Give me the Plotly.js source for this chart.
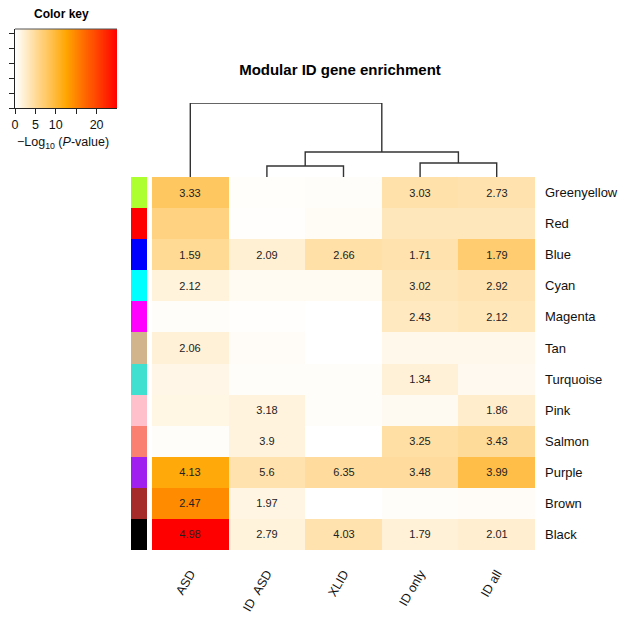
<!DOCTYPE html>
<html>
<head>
<meta charset="utf-8">
<script src="https://cdn.plot.ly/plotly-3.0.1.min.js"></script>
<style>html,body{margin:0;padding:0;background:#fff}#chart{width:620px;height:617px}</style>
</head>
<body>
<div id="chart"></div>
<script>
// ---- data ----
var columns = ['ASD', 'ID\u00a0\u00a0ASD', 'XLID', 'ID only', 'ID all'];
var modules = ['Greenyellow', 'Red', 'Blue', 'Cyan', 'Magenta', 'Tan', 'Turquoise', 'Pink', 'Salmon', 'Purple', 'Brown', 'Black'];
var moduleColors = ['#ADFF2F', '#FF0000', '#0000FF', '#00FFFF', '#FF00FF', '#D2B48C', '#40E0D0', '#FFC0CB', '#FA8072', '#A020F0', '#A52A2A', '#000000'];

// -log10(P) per column (colour), one value per module
var logP_ASD    = [7.8, 6.2, 5.2, 1.7, 0.3, 1.9, 1.2, 1.3, 0.3, 12.0, 14.4, 25.0];
var logP_IDASD  = [0.2, 0.1, 2.1, 0.6, 0.1, 0.4, 0.3, 1.6, 1.6, 4.0, 1.4, 1.7];
var logP_XLID   = [0.3, 0.5, 4.3, 0.6, 0.0, 0.0, 0.3, 0.3, 0.0, 4.8, 0.0, 4.0];
var logP_IDonly = [4.2, 3.3, 4.0, 3.5, 3.1, 1.0, 1.9, 0.7, 4.5, 4.8, 0.3, 1.9];
var logP_IDall  = [4.0, 3.3, 7.0, 3.8, 3.4, 1.0, 0.8, 2.5, 5.0, 9.0, 0.4, 2.3];

// cell labels (odds ratios), blank where not shown
var or_ASD    = ['3.33', '', '1.59', '2.12', '', '2.06', '', '', '', '4.13', '2.47', '4.98'];
var or_IDASD  = ['', '', '2.09', '', '', '', '', '3.18', '3.9', '5.6', '1.97', '2.79'];
var or_XLID   = ['', '', '2.66', '', '', '', '', '', '', '6.35', '', '4.03'];
var or_IDonly = ['3.03', '', '1.71', '3.02', '2.43', '', '1.34', '', '3.25', '3.48', '', '1.79'];
var or_IDall  = ['2.73', '', '1.79', '2.92', '2.12', '', '', '1.86', '3.43', '3.99', '', '2.01'];

// column dendrogram: 'L' = leaf index, 'M' = earlier merge index
var mergeA = ['L1', 'L3', 'M0', 'L0'];
var mergeB = ['L2', 'L4', 'M1', 'M2'];
var mergeHeight = [11, 14, 25, 74];

// colour key levels
var keyLevels = [0, 1, 2, 3, 4, 5, 6, 7, 8, 9, 10, 11, 12, 13, 14, 15, 16, 17, 18, 19, 20, 21, 22, 23, 24, 25];
var keyTicks = [0, 5, 10, 15, 20];
var keyTickText = ['0', '5', '10', '', '20'];

// ---- build ----
var FONT = 'Liberation Sans, Arial, Helvetica, sans-serif';
var logCols = [logP_ASD, logP_IDASD, logP_XLID, logP_IDonly, logP_IDall];
var orCols = [or_ASD, or_IDASD, or_XLID, or_IDonly, or_IDall];
var colIdx = columns.map(function (_, i) { return i; });
var rowIdx = modules.map(function (_, i) { return i; });
var z = [], txt = [];
modules.forEach(function (m, r) {
  z.push(logCols.map(function (c) { return c[r]; }));
  txt.push(orCols.map(function (c) { return c[r]; }));
});
var cscale = [[0, '#FFFFFF'], [0.5, '#FFA500'], [1, '#FF0000']];

var main = {
  type: 'heatmap', x: colIdx, y: rowIdx, z: z, text: txt,
  texttemplate: '%{text}', textfont: {family: FONT, size: 11, color: '#222'},
  colorscale: cscale, zmin: 0, zmax: 25, showscale: false, hoverinfo: 'skip',
  xaxis: 'x', yaxis: 'y'
};

var sideZ = modules.map(function (_, i) { return [i]; });
var sideScale = moduleColors.map(function (c, i) { return [i / (moduleColors.length - 1), c]; });
var side = {
  type: 'heatmap', x: [0], y: rowIdx, z: sideZ, colorscale: sideScale,
  zmin: 0, zmax: moduleColors.length - 1, showscale: false, hoverinfo: 'skip',
  xaxis: 'x2', yaxis: 'y'
};

function node(ref) {
  var k = parseInt(ref.slice(1), 10);
  if (ref[0] === 'L') return {x: k, h: 0};
  return nodes[k];
}
var nodes = [], dx = [], dy = [];
mergeA.forEach(function (a, i) {
  var A = node(a), B = node(mergeB[i]), H = mergeHeight[i];
  dx.push(A.x, A.x, B.x, B.x, null);
  dy.push(A.h, H, H, B.h, null);
  nodes.push({x: (A.x + B.x) / 2, h: H});
});
var dendro = {
  type: 'scatter', mode: 'lines', x: dx, y: dy, connectgaps: false,
  line: {color: '#333', width: 1.4}, hoverinfo: 'skip', cliponaxis: false,
  xaxis: 'x', yaxis: 'y2'
};

var key = {
  type: 'heatmap', x: keyLevels, y: [0, 5.27], z: [keyLevels, keyLevels],
  colorscale: cscale, zmin: 0, zmax: 25, zsmooth: 'best', showscale: false,
  hoverinfo: 'skip', xaxis: 'x3', yaxis: 'y3'
};

var W = 620, Hh = 617;
function px(v) { return v / W; }
function py(v) { return 1 - v / Hh; }

var layout = {
  width: W, height: Hh, margin: {l: 0, r: 0, t: 0, b: 0},
  paper_bgcolor: '#fff', plot_bgcolor: 'rgba(0,0,0,0)', showlegend: false,
  font: {family: FONT, color: '#111'},
  title: {text: '<b>Modular ID gene enrichment</b>', font: {family: FONT, size: 15, color: '#000'},
    x: px(340), xref: 'paper', xanchor: 'center', y: py(70), yref: 'paper', yanchor: 'middle'},
  xaxis: {domain: [px(152), px(535)], range: [-0.5, 4.5], anchor: 'y',
    tickvals: colIdx, ticktext: columns, tickangle: -60, ticks: '', ticklabelstandoff: 13,
    tickfont: {family: FONT, size: 12.5, color: '#111'}, showgrid: false, zeroline: false, showline: false},
  yaxis: {domain: [py(550), py(177)], range: [11.5, -0.5], anchor: 'x', side: 'right',
    tickvals: rowIdx, ticktext: modules, ticks: '', ticklabelstandoff: 9,
    tickfont: {family: FONT, size: 13, color: '#111'}, showgrid: false, zeroline: false, showline: false},
  xaxis2: {domain: [px(131), px(147)], range: [-0.5, 0.5], anchor: 'y', visible: false},
  yaxis2: {domain: [py(177), py(103)], range: [0, 74], anchor: 'x', visible: false},
  xaxis3: {domain: [px(15), px(117)], range: [0, 25], anchor: 'y3',
    tickvals: keyTicks, ticktext: keyTickText, ticks: 'outside', ticklen: 5, tickcolor: '#222',
    tickfont: {family: FONT, size: 12.5, color: '#111'}, ticklabelstandoff: 0,
    showline: true, linecolor: '#222', linewidth: 1, showgrid: false, zeroline: false},
  yaxis3: {domain: [py(108), py(29)], range: [0, 5.27], anchor: 'x3',
    tickvals: [0, 1, 2, 3, 4, 5], ticks: 'outside', ticklen: 5, tickcolor: '#222',
    showticklabels: false, showline: true, linecolor: '#222', linewidth: 1, showgrid: false, zeroline: false},
  shapes: [{type: 'line', xref: 'x3 domain', yref: 'y3 domain', x0: 0, x1: 1, y0: 1, y1: 1,
    line: {color: '#555', width: 1}}],
  annotations: [
    {text: '<b>Color key</b>', xref: 'paper', yref: 'paper', x: px(61), y: py(14),
      xanchor: 'center', yanchor: 'middle',
      showarrow: false, font: {family: FONT, size: 12, color: '#000'}},
    {text: '\u2212Log<sub>10</sub> (<i>P</i>-value)', xref: 'paper', yref: 'paper', x: px(63), y: py(143),
      xanchor: 'center', yanchor: 'middle',
      showarrow: false, font: {family: FONT, size: 12.5, color: '#111'}}
  ]
};

Plotly.newPlot('chart', [key, side, main, dendro], layout, {staticPlot: true, displayModeBar: false});
</script>
</body>
</html>
